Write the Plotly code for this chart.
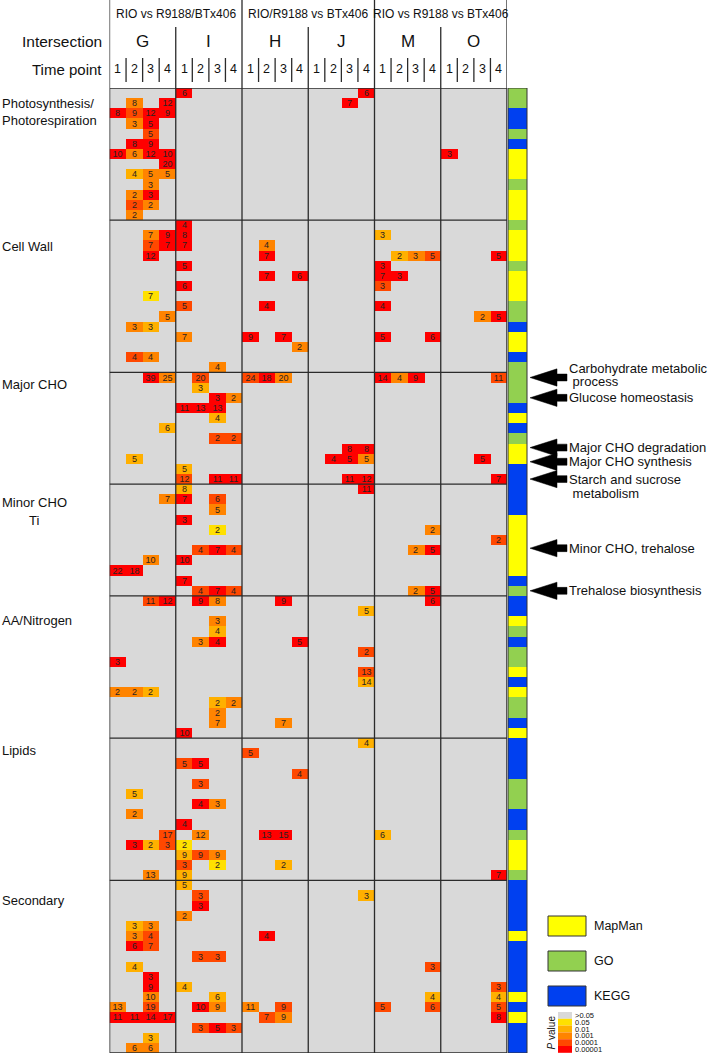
import plotly.graph_objects as go

W, H = 709, 1055
FONT = "Liberation Sans, Arial, sans-serif"

# ---------------- data ----------------
groups = ["RIO vs R9188/BTx406", "RIO/R9188 vs BTx406", "RIO vs R9188 vs BTx406"]
intersections = ["G", "I", "H", "J", "M", "O"]
time_points = ["1", "2", "3", "4"]
columns = [f"{s}{t}" for s in intersections for t in time_points]

p_levels = [">0.05", "0.05", "0.01", "0.001", "0.0001", "0.00001"]
p_colors = ["#d9d9d9", "#ffe000", "#ffb000", "#ff8400", "#ff4800", "#ff0000"]

sources = {"M": "MapMan", "G": "GO", "K": "KEGG"}
source_order = ["M", "G", "K"]
source_colors = ["#ffff00", "#92d050", "#0040f0"]

section_names = ["Photosynthesis/<br>Photorespiration", "Cell Wall", "Major CHO",
                 "Minor CHO", "AA/Nitrogen", "Lipids", "Secondary"]

# each row: list of (column, number of genes, p-value level index)
photosynthesis = [
    [("I1", 6, 5), ("J4", 6, 5)],
    [("G2", 8, 3), ("G4", 12, 5), ("J3", 7, 5)],
    [("G1", 8, 5), ("G2", 9, 4), ("G3", 12, 5), ("G4", 9, 5)],
    [("G2", 3, 3), ("G3", 5, 5)],
    [("G3", 5, 4)],
    [("G2", 8, 5), ("G3", 9, 5)],
    [("G1", 10, 5), ("G2", 6, 3), ("G3", 12, 5), ("G4", 10, 5), ("O1", 3, 5)],
    [("G4", 20, 5)],
    [("G2", 4, 2), ("G3", 5, 3), ("G4", 5, 3)],
    [("G3", 3, 3)],
    [("G2", 2, 3), ("G3", 3, 5)],
    [("G2", 2, 4), ("G3", 2, 3)],
    [("G2", 2, 3)],
]
photosynthesis_src = "GGKKGKMMMGMMM"

cell_wall = [
    [("I1", 4, 5)],
    [("G3", 7, 3), ("G4", 9, 5), ("I1", 8, 5), ("M1", 3, 2)],
    [("G3", 7, 4), ("G4", 7, 5), ("I1", 7, 5), ("H2", 4, 3)],
    [("G3", 12, 5), ("H2", 7, 5), ("M2", 2, 2), ("M3", 3, 3), ("M4", 5, 4), ("O4", 5, 5)],
    [("I1", 5, 5), ("M1", 3, 5)],
    [("H2", 7, 5), ("H4", 6, 5), ("M1", 7, 5), ("M2", 3, 5)],
    [("I1", 6, 5), ("M1", 3, 4)],
    [("G3", 7, 1)],
    [("I1", 5, 4), ("H2", 4, 5), ("M1", 4, 5)],
    [("G4", 5, 3), ("O3", 2, 3), ("O4", 5, 5)],
    [("G2", 3, 3), ("G3", 3, 2)],
    [("I1", 7, 3), ("H1", 9, 5), ("H3", 7, 5), ("M1", 5, 5), ("M4", 6, 5)],
    [("H4", 2, 3)],
    [("G2", 4, 4), ("G3", 4, 3)],
    [("I3", 4, 3)],
]
cell_wall_src = "GMMMGMMMGGKMMKG"

major_cho = [
    [("G3", 39, 5), ("G4", 25, 3), ("I2", 20, 4), ("H1", 24, 4), ("H2", 18, 5), ("H3", 20, 3),
     ("M1", 14, 5), ("M2", 4, 3), ("M3", 9, 5), ("O4", 11, 4)],
    [("I2", 3, 2)],
    [("I3", 3, 5), ("I4", 2, 3)],
    [("I1", 11, 5), ("I2", 13, 5), ("I3", 13, 5)],
    [("I3", 4, 2)],
    [("G4", 6, 2)],
    [("I3", 2, 4), ("I4", 2, 4)],
    [("J3", 8, 5), ("J4", 8, 5)],
    [("G2", 5, 2), ("J2", 4, 5), ("J3", 5, 5), ("J4", 5, 3), ("O3", 5, 5)],
    [("I1", 5, 2)],
    [("I1", 12, 4), ("I3", 11, 5), ("I4", 11, 5), ("J3", 11, 5), ("J4", 12, 5), ("O4", 7, 5)],
]
major_cho_src = "GGGKMKGMMKK"

minor_cho = [
    [("I1", 8, 2), ("J4", 11, 5)],
    [("G4", 7, 3), ("I1", 7, 5), ("I3", 6, 4)],
    [("I3", 5, 3)],
    [("I1", 3, 5)],
    [("I3", 2, 1), ("M4", 2, 3)],
    [("O4", 2, 4)],
    [("I2", 4, 4), ("I3", 7, 5), ("I4", 4, 4), ("M3", 2, 3), ("M4", 5, 5)],
    [("G3", 10, 3), ("I1", 10, 5)],
    [("G1", 22, 5), ("G2", 18, 5)],
    [("I1", 7, 5)],
    [("I2", 4, 4), ("I3", 7, 5), ("I4", 4, 4), ("M3", 2, 3), ("M4", 5, 5)],
]
minor_cho_src = "KKKMMMMMMKG"

aa_nitrogen = [
    [("G3", 11, 4), ("G4", 12, 5), ("I2", 9, 5), ("I3", 8, 3), ("H3", 9, 5), ("M4", 6, 5)],
    [("J4", 5, 2)],
    [("I3", 3, 3)],
    [("I3", 4, 2)],
    [("I2", 3, 3), ("I3", 4, 5), ("H4", 5, 5)],
    [("J4", 2, 4)],
    [("G1", 3, 5)],
    [("J4", 13, 4)],
    [("J4", 14, 2)],
    [("G1", 2, 3), ("G2", 2, 3), ("G3", 2, 2)],
    [("I3", 2, 2), ("I4", 2, 3)],
    [("I3", 2, 3)],
    [("I3", 7, 3), ("H3", 7, 3)],
    [("I1", 10, 5)],
]
aa_nitrogen_src = "KKMGKGGMKMGGKM"

lipids = [
    [("J4", 4, 2)],
    [("H1", 5, 4)],
    [("I1", 5, 4), ("I2", 5, 5)],
    [("H4", 4, 4)],
    [("I2", 3, 4)],
    [("G2", 5, 2)],
    [("I2", 4, 5), ("I3", 3, 3)],
    [("G2", 2, 3)],
    [("I1", 4, 5)],
    [("G4", 17, 4), ("I2", 12, 3), ("H2", 13, 5), ("H3", 15, 5), ("M1", 6, 2)],
    [("G2", 3, 5), ("G3", 2, 2), ("G4", 3, 4), ("I1", 2, 1)],
    [("I1", 9, 2), ("I2", 9, 4), ("I3", 9, 3)],
    [("I1", 3, 4), ("I3", 2, 1), ("H3", 2, 2)],
    [("G3", 13, 3), ("I1", 9, 2), ("O4", 7, 5)],
]
lipids_src = "KKKKGGGKKGMMMG"

secondary = [
    [("I1", 5, 2)],
    [("I2", 3, 4), ("J4", 3, 2)],
    [("I2", 3, 5)],
    [("I1", 2, 3)],
    [("G2", 3, 2), ("G3", 3, 3)],
    [("G2", 3, 3), ("G3", 4, 4), ("H2", 4, 5)],
    [("G2", 6, 5), ("G3", 7, 4)],
    [("I2", 3, 4), ("I3", 3, 4)],
    [("G2", 4, 2), ("M4", 3, 4)],
    [("G3", 3, 5)],
    [("G3", 9, 5), ("I1", 4, 2), ("O4", 3, 4)],
    [("G3", 10, 3), ("I3", 6, 2), ("M4", 4, 2), ("O4", 4, 2)],
    [("G1", 13, 3), ("G3", 19, 4), ("I2", 10, 5), ("I3", 9, 3), ("H1", 11, 3), ("H3", 9, 4),
     ("M1", 5, 4), ("M4", 6, 4), ("O4", 5, 4)],
    [("G1", 11, 5), ("G2", 11, 5), ("G3", 14, 5), ("G4", 17, 5), ("H2", 7, 4), ("H3", 9, 3), ("O4", 8, 5)],
    [("I2", 3, 4), ("I3", 5, 5), ("I4", 3, 4)],
    [("G3", 3, 2)],
    [("G2", 6, 3), ("G3", 6, 3)],
]
secondary_src = "KKKKKMKKKKKMKMKKK"

section_rows = [photosynthesis, cell_wall, major_cho, minor_cho, aa_nitrogen, lipids, secondary]
section_srcs = [photosynthesis_src, cell_wall_src, major_cho_src, minor_cho_src,
                aa_nitrogen_src, lipids_src, secondary_src]

# arrows: (label lines, section index, row within section)
arrow_notes = [
    (["Carbohydrate metabolic", " process"], 2, 0),
    (["Glucose homeostasis"], 2, 2),
    (["Major CHO degradation"], 2, 7),
    (["Major CHO synthesis"], 2, 8),
    (["Starch and sucrose", " metabolism"], 2, 10),
    (["Minor CHO, trehalose"], 3, 6),
    (["Trehalose biosynthesis"], 3, 10),
]

# ---------------- build matrices ----------------
ncol = len(columns)
nrows = sum(len(s) for s in section_rows)
z = [[0] * ncol for _ in range(nrows)]
txt = [[""] * ncol for _ in range(nrows)]
src_z = []
starts = []
r = 0
for rows, srcs in zip(section_rows, section_srcs):
    starts.append(r)
    for k, row in enumerate(rows):
        for col, n, lev in row:
            c = columns.index(col)
            z[r][c] = lev
            txt[r][c] = str(n)
        src_z.append([source_order.index(srcs[k])])
        r += 1
starts.append(r)


def discrete(colors):
    n = len(colors)
    cs = []
    for i, c in enumerate(colors):
        cs.append([i / n, c])
        cs.append([(i + 1) / n, c])
    return cs


# ---------------- geometry ----------------
GX0, GX1, GY0, GY1 = 109.5, 507.0, 88.0, 1053.0
BX0, BX1 = 508.0, 527.0
ROWH = (GY1 - GY0) / nrows


def px(x):
    return x / W


def py(y):
    return 1 - y / H


fig = go.Figure()
fig.add_trace(go.Heatmap(
    z=z, x=list(range(ncol)), y=list(range(nrows)), text=txt, texttemplate="%{text}",
    textfont=dict(size=9, color="#2a2222", family=FONT),
    colorscale=discrete(p_colors), zmin=-0.5, zmax=len(p_colors) - 0.5,
    showscale=False, hoverinfo="skip", xaxis="x", yaxis="y"))
fig.add_trace(go.Heatmap(
    z=src_z, x=[0], y=list(range(nrows)),
    colorscale=discrete(source_colors), zmin=-0.5, zmax=2.5,
    showscale=False, hoverinfo="skip", xaxis="x2", yaxis="y"))

shapes = []
LC = "#2b2b2b"
for b in starts[1:-1]:
    shapes.append(dict(type="line", xref="x", yref="y", x0=-0.5, x1=ncol - 0.5,
                       y0=b - 0.5, y1=b - 0.5, line=dict(color=LC, width=1.3)))
for i in range(1, len(intersections)):
    xv = 4 * i - 0.5
    shapes.append(dict(type="line", xref="x", yref="y", x0=xv, x1=xv,
                       y0=-0.5, y1=nrows - 0.5, line=dict(color=LC, width=1.3)))
shapes.append(dict(type="rect", xref="x", yref="y", x0=-0.5, x1=ncol - 0.5,
                   y0=-0.5, y1=nrows - 0.5, line=dict(color=LC, width=1.5)))
shapes.append(dict(type="rect", xref="paper", yref="y", x0=px(BX0), x1=px(BX1),
                   y0=-0.5, y1=nrows - 0.5, line=dict(color="#333333", width=1)))

for c in range(ncol + 1):
    xv = c - 0.5
    if c % 8 == 0:
        y0, y1 = 0, GY0
    elif c % 4 == 0:
        y0, y1 = 27, GY0
    else:
        y0, y1 = 58, 82
    shapes.append(dict(type="line", xref="x", yref="paper", x0=xv, x1=xv,
                       y0=py(y0), y1=py(y1), line=dict(color=LC, width=1.3)))

annotations = []


def ann(text, x, y, size, xref="paper", yref="paper", xanchor="center", **kw):
    d = dict(text=text, x=x, y=y, xref=xref, yref=yref, showarrow=False,
             xanchor=xanchor, yanchor="middle", font=dict(size=size, color="#111111", family=FONT))
    d.update(kw)
    annotations.append(d)


for g, name in enumerate(groups):
    ann(name, 8 * g + 3.5, py(14), 12, xref="x")
ann("Intersection", px(104), py(42), 15.5, xanchor="right")
for i, name in enumerate(intersections):
    ann(name, 4 * i + 1.5, py(42), 17, xref="x")
ann("Time point", px(104), py(69), 15, xanchor="right")
for c in range(ncol):
    ann(time_points[c % 4], c, py(69), 12.5, xref="x")

label_y = [112, 247, 384, 503, 620, 750, 900]
for name, yy in zip(section_names, label_y):
    ann(name, px(0), py(yy), 13, xanchor="left", align="left")
ann("Ti", px(27), py(520), 13, xanchor="left")

# small vertical nudges (px) so the arrows sit where the reference draws them
arrow_nudge = [0, 0, -1, 3, 0, -2, 0]
for (lines, s, k), dy in zip(arrow_notes, arrow_nudge):
    rr = starts[s] + k + dy / ROWH
    tip, hb, tail = px(530), px(557), px(567)
    hh, sh = 0.85, 0.34
    path = (f"M {tip} {rr} L {hb} {rr - hh} L {hb} {rr - sh} L {tail} {rr - sh} "
            f"L {tail} {rr + sh} L {hb} {rr + sh} L {hb} {rr + hh} Z")
    shapes.append(dict(type="path", xref="paper", yref="y", path=path,
                       fillcolor="black", line=dict(color="black", width=0.5)))
    if len(lines) == 1:
        ann(lines[0], px(567), rr, 13, yref="y", xanchor="left")
    elif k == 0:
        ann(lines[0], px(567), rr - 9 / ROWH, 13, yref="y", xanchor="left")
        ann(lines[1], px(567), rr + 4 / ROWH, 13, yref="y", xanchor="left")
    else:
        ann(lines[0], px(567), rr, 13, yref="y", xanchor="left")
        ann(lines[1], px(567), rr + 14 / ROWH, 13, yref="y", xanchor="left")

leg_y = [926, 961, 996]
for code, col, yy in zip(source_order, source_colors, leg_y):
    shapes.append(dict(type="rect", xref="paper", yref="paper", x0=px(548), x1=px(586),
                       y0=py(yy - 10), y1=py(yy + 10), fillcolor=col,
                       line=dict(color="#333333", width=1)))
    ann(sources[code], px(592), py(yy), 12.5, xanchor="left")

cb_top, cb_h = 1012, 6.8
for i, (lab, col) in enumerate(zip(p_levels, p_colors)):
    y0 = cb_top + i * cb_h
    shapes.append(dict(type="rect", xref="paper", yref="paper", x0=px(558), x1=px(572),
                       y0=py(y0), y1=py(y0 + cb_h), fillcolor=col, line=dict(width=0)))
    ann(lab, px(574), py(y0 + cb_h / 2), 7.5, xanchor="left", borderpad=0)
ann("<i>P</i> value", px(551), py(cb_top + 3 * cb_h), 10, textangle=-90, borderpad=0)

fig.update_layout(
    width=W, height=H, margin=dict(l=0, r=0, t=0, b=0),
    paper_bgcolor="white", plot_bgcolor="white",
    xaxis=dict(domain=[px(GX0), px(GX1)], range=[-0.5, ncol - 0.5], visible=False, fixedrange=True),
    xaxis2=dict(domain=[px(BX0), px(BX1)], range=[-0.5, 0.5], visible=False, anchor="y", fixedrange=True),
    yaxis=dict(domain=[py(GY1), py(GY0)], range=[nrows - 0.5, -0.5], visible=False, fixedrange=True),
    shapes=shapes, annotations=annotations, showlegend=False,
)
fig.write_html(
    "out.html",
    config={"displayModeBar": False},
    post_script="document.body.style.margin='0';document.body.style.overflow='hidden';",
)
